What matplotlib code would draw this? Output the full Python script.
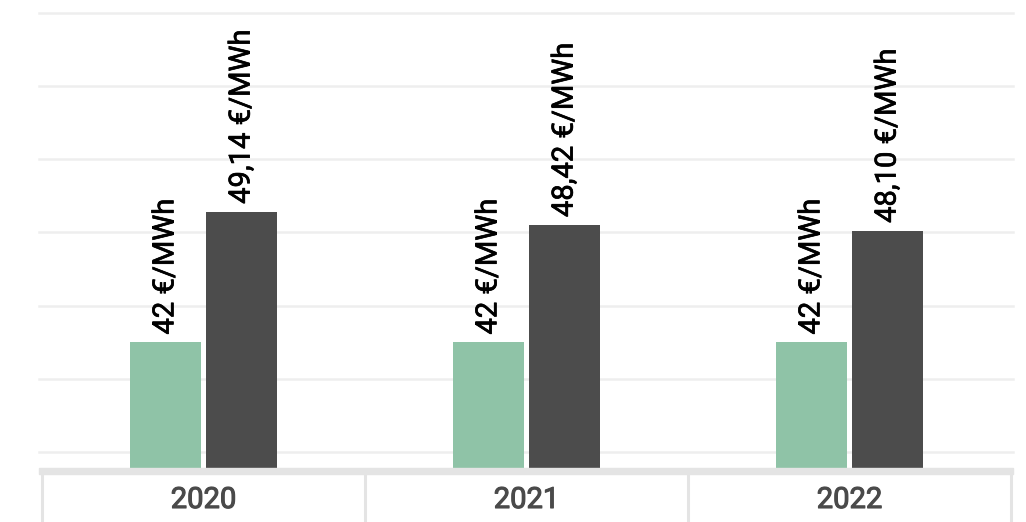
import numpy as np
import matplotlib.pyplot as plt
import matplotlib.transforms as mtransforms
import matplotlib.patheffects as pe
from matplotlib.patches import Rectangle
from matplotlib.lines import Line2D

plt.rcParams['font.family'] = ['Roboto', 'DejaVu Sans']

# Datos
years = ['2020', '2021', '2022']
precio_fijo = [42, 42, 42]
precio_medio = [49.14, 48.42, 48.10]

color_verde = '#8fc3a7'
color_gris = '#4c4c4c'
color_linea = '#eeeeee'
color_tabla = '#e4e4e4'


def etiqueta(v):
    if float(v).is_integer():
        return '%d €/MWh' % v
    return ('%.2f €/MWh' % v).replace('.', ',')


W, H = 1026, 522
fig = plt.figure(figsize=(W / 100, H / 100), dpi=100)
ax_left, ax_right, ax_bottom = 42, 1011, 468
ax = fig.add_axes([ax_left / W, (H - ax_bottom) / H, (ax_right - ax_left) / W, ax_bottom / H])

x = np.arange(len(years))
ancho = 0.22
desp = 0.118

b1 = ax.bar(x - desp, precio_fijo, ancho, color=color_verde, zorder=3)
b2 = ax.bar(x + desp, precio_medio, ancho, color=color_gris, zorder=3)

for barras, valores in ((b1, precio_fijo), (b2, precio_medio)):
    for rect, v in zip(barras, valores):
        ax.annotate(etiqueta(v), (rect.get_x() + rect.get_width() / 2, rect.get_height()),
                    xytext=(0, 5.5), textcoords='offset points', rotation=90,
                    ha='center', va='bottom', fontsize=21, color='black', zorder=4,
                    path_effects=[pe.withStroke(linewidth=0.5, foreground='black')])

# escala del eje y
px_unidad = 73.2 / 4.0
y0 = 36 - (ax_bottom - 452) / px_unidad
ax.set_ylim(y0, y0 + ax_bottom / px_unidad)
ax.set_xlim(-0.5, len(years) - 0.5)

# lineas de cuadricula
for g in np.arange(36, 61, 4):
    ax.axhline(g, xmin=-0.003, xmax=1.002, color=color_linea, lw=1.8, zorder=1, clip_on=False)

for s in ax.spines.values():
    s.set_visible(False)
ax.set_xticks([])
ax.set_yticks([])

# tabla inferior
fig.patches.append(Rectangle(((ax_left - 3) / W, (H - 474) / H), (ax_right - ax_left + 5) / W, 6 / H,
                             transform=fig.transFigure, color=color_tabla, zorder=5))
trans = mtransforms.blended_transform_factory(ax.transData, ax.transAxes)
for b in np.arange(-0.5, len(years), 1.0):
    ax.add_line(Line2D([b, b], [-6 / ax_bottom, -60 / ax_bottom], transform=trans,
                       color=color_tabla, lw=2.2, clip_on=False))

for xi, yr in zip(x, years):
    ax.text(xi, -(508 - ax_bottom) / ax_bottom, yr, transform=trans, ha='center',
            va='baseline', fontsize=21, color='#4a4a4a',
            path_effects=[pe.withStroke(linewidth=0.8, foreground='#4a4a4a')])

fig.savefig('out.png', dpi=100)
